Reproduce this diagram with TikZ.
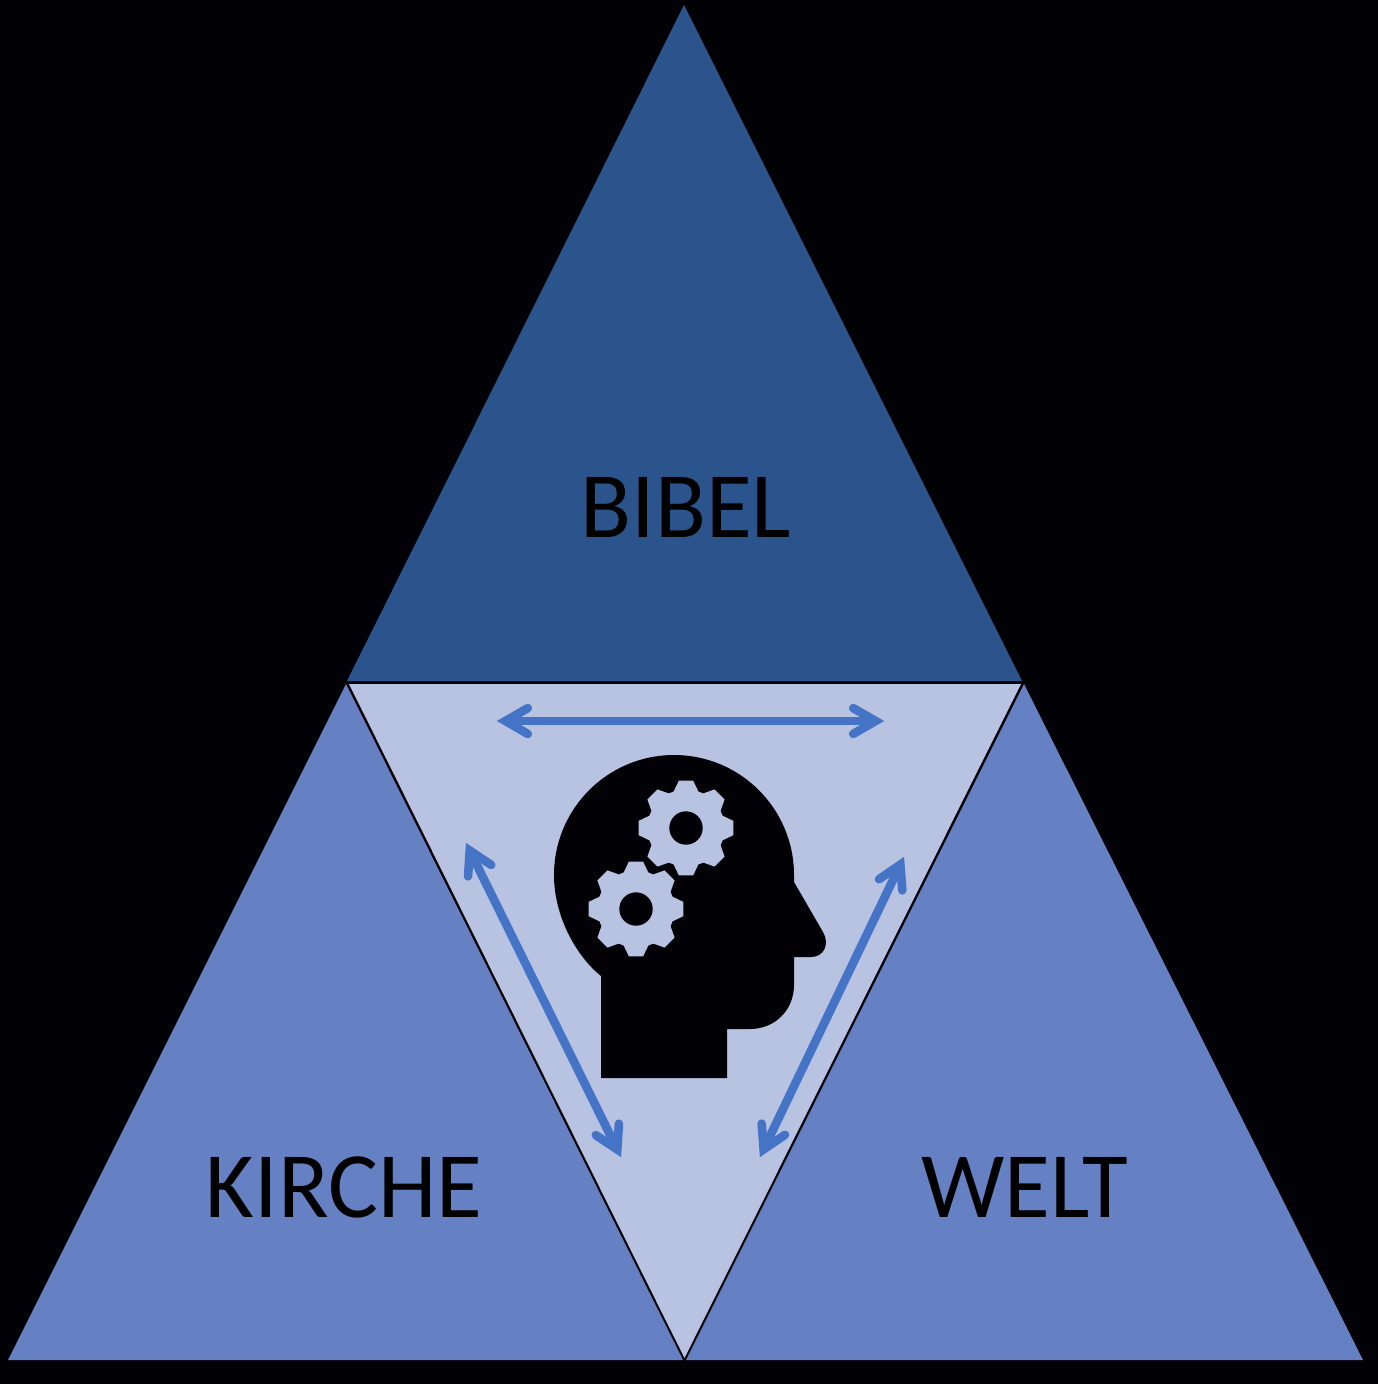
\documentclass[tikz,border=0pt]{standalone}
\usepackage{fontspec}
\setmainfont{Carlito}
\usetikzlibrary{calc}
\definecolor{bgk}{HTML}{020106}
\definecolor{topc}{HTML}{2C548C}
\definecolor{sidec}{HTML}{6581C4}
\definecolor{midc}{HTML}{B8C3E2}
\definecolor{arrowc}{HTML}{4573C6}
\tikzset{
  px/.style={x=0.02cm,y=-0.02cm},
  dblarrow/.style={draw=arrowc,line width=4.9pt,line cap=round,line join=miter,miter limit=10},
  label/.style={font=\fontsize{53.3}{53.3}\selectfont,text=black,inner sep=0pt,anchor=center}
}
\newcommand{\gearat}[2]{%
  \begin{scope}[shift={(#1,#2)}]
    \fill[midc] (0,0) circle (38.5);
    \foreach \a in {0,45,...,315}{
      \fill[midc] (\a-21:37) -- (\a-8.5:48) -- (\a+8.5:48) -- (\a+21:37) -- cycle;
    }
    \fill[bgk] (0,0) circle (16.7);
  \end{scope}}
\newcommand{\dblarrowpath}[2]{%
  \coordinate (tipA) at ($(#1)!4.8pt!(#2)$);
  \coordinate (tipB) at ($(#2)!4.8pt!(#1)$);
  \draw[dblarrow,line cap=butt] (tipA) -- (tipB);
  \draw[dblarrow] ($(tipA)!14.7pt!30:(tipB)$) -- (tipA) -- ($(tipA)!14.7pt!-30:(tipB)$);
  \draw[dblarrow] ($(tipB)!14.7pt!30:(tipA)$) -- (tipB) -- ($(tipB)!14.7pt!-30:(tipA)$);
}
\begin{document}
\begin{tikzpicture}[px]
\useasboundingbox (0,0) rectangle (1378,1384);
\fill[bgk] (0,0) rectangle (1378,1384);
% triangles
\fill[topc] (684,5) -- (1022,681) -- (347,681) -- cycle;
\fill[sidec] (346,684) -- (8,1360) -- (683,1360) -- cycle;
\fill[sidec] (1024,684) -- (686,1360) -- (1363,1360) -- cycle;
\fill[midc] (349,684) -- (1021,684) -- (684.5,1358) -- cycle;
% head
\fill[bgk] (601,976) -- (601,1078) -- (727,1078) -- (727,1029) -- (750,1029)
  .. controls (775,1029) and (794,1010) .. (794,985) -- (794,957) -- (811,957)
  .. controls (824,957) and (830,944) .. (823,932) -- (794,882) -- (794,875)
  arc[start angle=0,end angle=-180,radius=120] .. controls (554,915) and (575,955) .. (601,976) -- cycle;
\gearat{686}{828}
\gearat{636}{909}
% arrows
\coordinate (a1) at (497,721); \coordinate (a2) at (884,721);
\coordinate (b1) at (466,843); \coordinate (b2) at (621,1157);
\coordinate (c1) at (904,857); \coordinate (c2) at (760,1157);
\dblarrowpath{a1}{a2}
\dblarrowpath{b1}{b2}
\dblarrowpath{c1}{c2}
% labels
\node[label] (bibel) at (686,507) {BIBEL};
\node[label] (kirche) at (344,1187) {KIRCHE};
\node[label] (welt) at (1025,1187) {WELT};
\end{tikzpicture}
\end{document}
